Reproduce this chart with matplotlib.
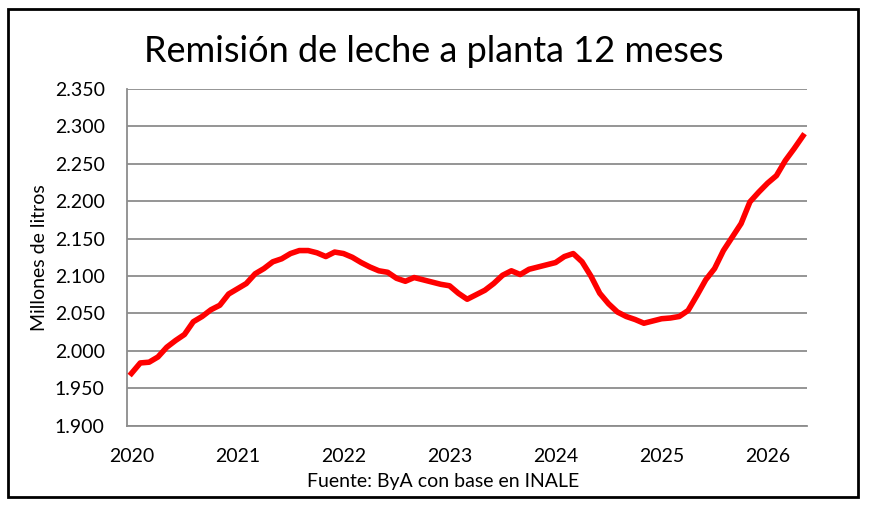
import matplotlib
matplotlib.use("Agg")
import matplotlib.pyplot as plt
from matplotlib.patches import Rectangle
from matplotlib.ticker import FuncFormatter

# remision 12 meses moviles, millones de litros, mensual desde ene-2020
remision = [
    1970, 1984, 1985, 1992, 2005, 2014, 2022, 2039, 2046, 2055, 2061, 2076,
    2083, 2090, 2103, 2110, 2119, 2123, 2130, 2134, 2134, 2131, 2126, 2132,
    2130, 2125, 2118, 2112, 2107, 2105, 2097, 2093, 2098, 2095, 2092, 2089,
    2087, 2077, 2069, 2075, 2081, 2090, 2101, 2107, 2102, 2109, 2112, 2115,
    2118, 2126, 2130, 2119, 2100, 2077, 2063, 2052, 2046, 2042, 2037, 2040,
    2043, 2044, 2046, 2054, 2074, 2095, 2110, 2134, 2152, 2170, 2199, 2212,
    2224, 2234, 2254, 2270, 2287,
]
anios = ["2020", "2021", "2022", "2023", "2024", "2025", "2026"]

fuente = ["Lato", "DejaVu Sans"]
plt.rcParams["font.family"] = fuente

fig = plt.figure(figsize=(8.7, 5.07), dpi=100)
ax = fig.add_axes([0.146, 0.160, 0.782, 0.665])

x = list(range(len(remision)))
ax.plot(x, remision, color="#FF0000", lw=4, solid_joinstyle="round", zorder=3)

ax.set_xlim(-0.5, len(remision) - 0.5)
ax.set_ylim(1900, 2350)
ax.set_yticks(range(1900, 2351, 50))
ax.yaxis.set_major_formatter(FuncFormatter(lambda v, p: f"{v/1000:.3f}"))
ax.set_xticks([12 * i for i in range(len(anios))])
ax.set_xticklabels(anios)
ax.tick_params(length=0, labelsize=14, colors="black")
ax.tick_params(axis="y", pad=16)
ax.tick_params(axis="x", pad=16)

ax.grid(axis="y", color="#8c8c8c", lw=1.3)
ax.set_axisbelow(True)
for s in ["top", "right"]:
    ax.spines[s].set_visible(False)
ax.spines["left"].set_color("#8c8c8c")
ax.spines["left"].set_linewidth(1.3)
ax.spines["bottom"].set_color("#8c8c8c")
ax.spines["bottom"].set_linewidth(1.3)

ax.set_ylabel("Millones de litros", fontsize=14, labelpad=5)
fig.text(0.498, 0.898, "Remisión de leche a planta 12 meses", fontsize=26,
         ha="center", va="center")
fig.text(0.509, 0.051, "Fuente: ByA con base en INALE", fontsize=14,
         ha="center", va="center")

fig.patches.append(Rectangle((8 / 870, 1 - 496.7 / 507), 850.3 / 870, 487.4 / 507,
                             transform=fig.transFigure, fill=False,
                             edgecolor="black", lw=2))

fig.savefig("out.png", dpi=100, facecolor="white")
